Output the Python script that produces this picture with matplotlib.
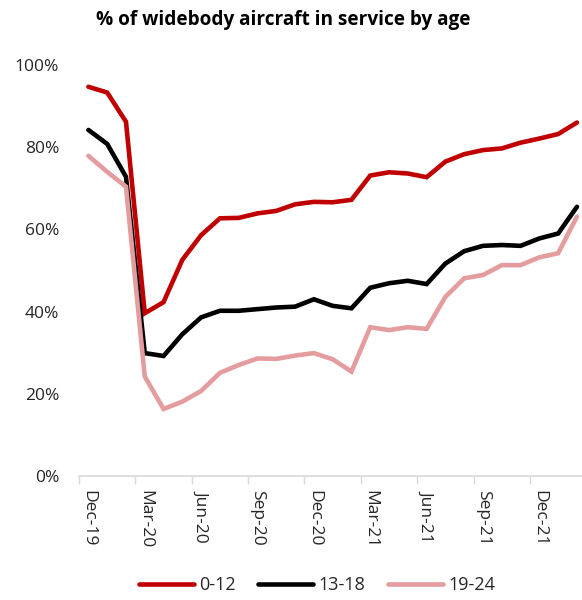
import matplotlib
matplotlib.use("Agg")
import matplotlib.pyplot as plt
from matplotlib.ticker import FixedLocator, PercentFormatter

# ---------------------------------------------------------------- data
months = ["Dec-19", "Jan-20", "Feb-20", "Mar-20", "Apr-20", "May-20", "Jun-20",
          "Jul-20", "Aug-20", "Sep-20", "Oct-20", "Nov-20", "Dec-20", "Jan-21",
          "Feb-21", "Mar-21", "Apr-21", "May-21", "Jun-21", "Jul-21", "Aug-21",
          "Sep-21", "Oct-21", "Nov-21", "Dec-21", "Jan-22", "Feb-22"]
age_0_12 = [94.7, 93.3, 86.2, 39.6, 42.3, 52.6, 58.6, 62.7, 62.8, 63.9, 64.5,
            66.1, 66.7, 66.6, 67.2, 73.1, 73.9, 73.6, 72.7, 76.5, 78.3, 79.3,
            79.7, 81.1, 82.1, 83.2, 86.0]
age_13_18 = [84.2, 80.8, 72.8, 29.9, 29.2, 34.5, 38.6, 40.2, 40.2, 40.6, 41.0,
             41.2, 43.0, 41.4, 40.8, 45.8, 46.9, 47.5, 46.7, 51.7, 54.7, 56.0,
             56.2, 56.0, 57.8, 59.0, 65.5]
age_19_24 = [77.9, 74.0, 70.4, 24.2, 16.3, 18.1, 20.7, 25.1, 27.0, 28.6, 28.5,
             29.3, 29.9, 28.4, 25.4, 36.2, 35.5, 36.2, 35.8, 43.6, 48.1, 48.9,
             51.3, 51.3, 53.2, 54.2, 63.1]
series_names = ["0-12", "13-18", "19-24"]

# ---------------------------------------------------------------- style
RED = "#C00000"
BLACK = "#000000"
PINK = "#E59C9E"
AXIS = "#D9D9D9"
TXT = "#262626"
plt.rcParams["font.family"] = ["Open Sans", "DejaVu Sans"]

fig = plt.figure(figsize=(5.82, 6.0), dpi=100)
ax = fig.add_axes([79 / 582, 124 / 600, 503 / 582, 411 / 600])

x = list(range(len(months)))
for vals, col, name in zip([age_0_12, age_13_18, age_19_24],
                           [RED, BLACK, PINK], series_names):
    ax.plot(x, vals, color=col, lw=3.3, label=name, solid_capstyle="round",
            solid_joinstyle="miter")

ax.set_ylim(0, 100)
ax.set_xlim(-0.5, -0.5 + 503 / 18.79)
ax.yaxis.set_major_locator(FixedLocator([0, 20, 40, 60, 80, 100]))
ax.yaxis.set_major_formatter(PercentFormatter(decimals=0))

# labels centred on categories, tick marks on category boundaries
ax.set_xticks(x[::3])
ax.set_xticklabels(months[::3], rotation=-90)
ax.set_xticks([i - 0.5 for i in range(0, len(months), 3)], minor=True)
ax.tick_params(axis="x", which="major", length=0, pad=10, labelsize=12.5,
               colors=TXT)
ax.tick_params(axis="x", which="minor", length=6, width=1.0, color=AXIS)
ax.tick_params(axis="y", length=0, pad=14.4, labelsize=12.5, colors=TXT)

for s in ("top", "right", "left"):
    ax.spines[s].set_visible(False)
ax.spines["bottom"].set_color(AXIS)
ax.spines["bottom"].set_linewidth(1.2)

fig.text(283.5 / 582, 1 - 20 / 600, "% of widebody aircraft in service by age",
         ha="center", va="center", fontsize=13.7, fontweight="bold",
         color="#000000")

fig.legend(loc="center", bbox_to_anchor=(317 / 582, 1 - 585 / 600), ncol=3,
           frameon=False, fontsize=13, handlelength=3.05, handletextpad=0.28,
           columnspacing=1.27, labelcolor=TXT)

fig.savefig("out.png", dpi=100, facecolor="white")
